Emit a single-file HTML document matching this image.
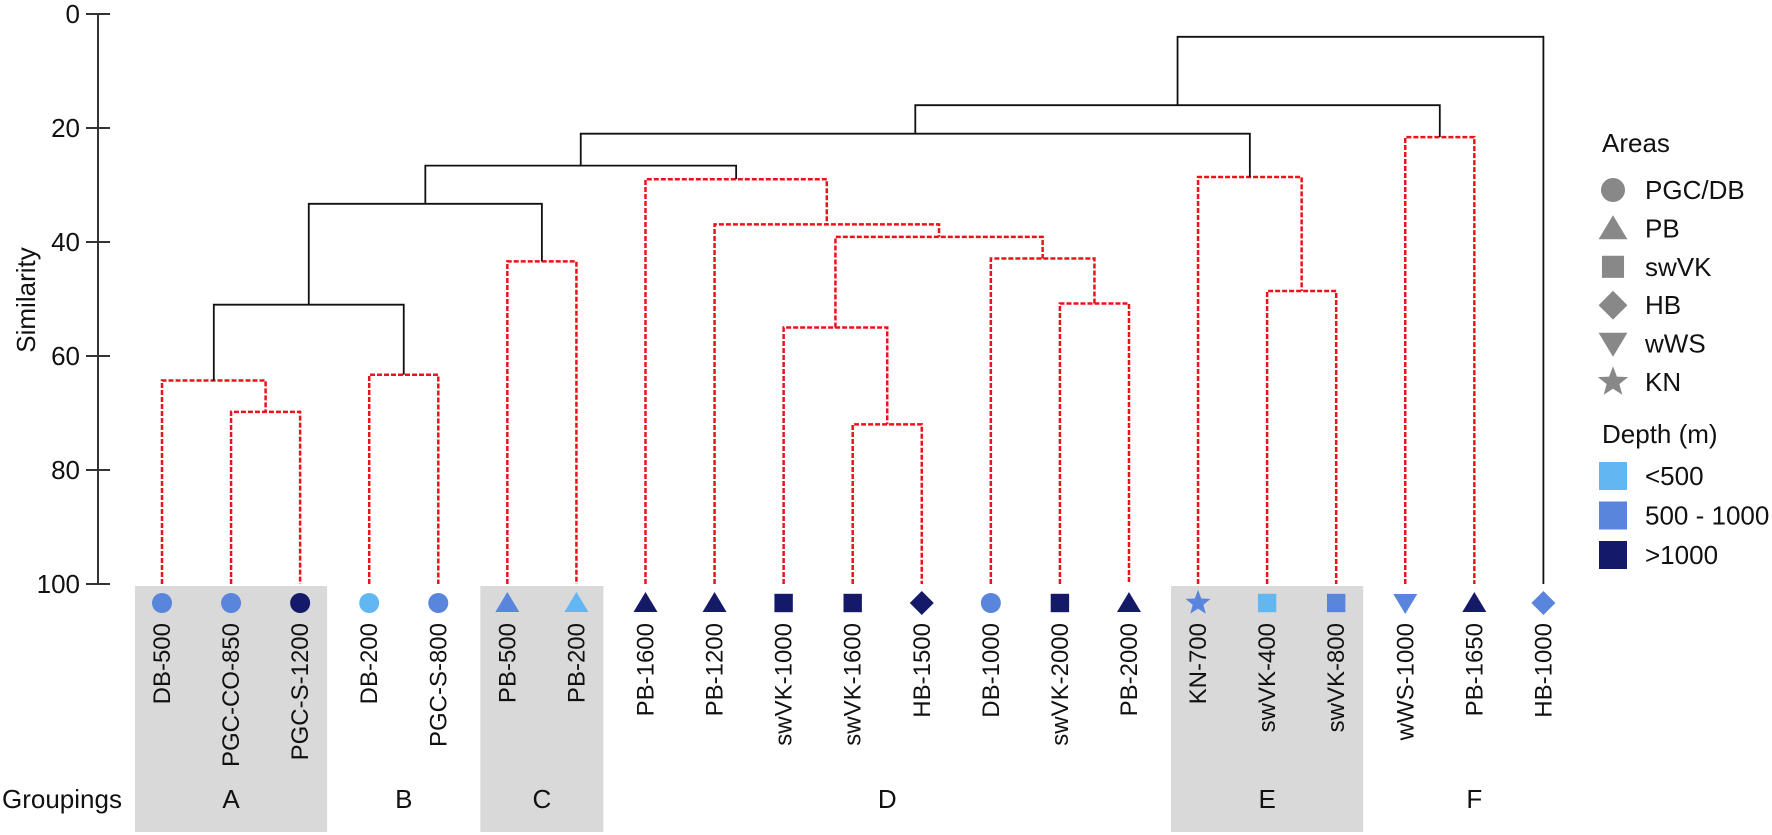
<!DOCTYPE html>
<html><head><meta charset="utf-8">
<style>
html,body{margin:0;padding:0;background:#fff;}
svg{display:block;font-family:"Liberation Sans",Arial,sans-serif;}
</style></head>
<body>
<svg id="chart" width="1772" height="835" viewBox="0 0 1772 835">
  <g id="groups"></g>
  <g id="axis"></g>
  <g id="tree"></g>
  <g id="leaves"></g>
  <g id="legend"></g>
</svg>
<script>
// ---- data ----
const leafNames = ["DB-500","PGC-CO-850","PGC-S-1200","DB-200","PGC-S-800","PB-500","PB-200","PB-1600","PB-1200","swVK-1000","swVK-1600","HB-1500","DB-1000","swVK-2000","PB-2000","KN-700","swVK-400","swVK-800","wWS-1000","PB-1650","HB-1000"];
const leafArea = ["circle","circle","circle","circle","circle","tri","tri","tri","tri","square","square","diamond","circle","square","tri","star","square","square","tridown","tri","diamond"];
const leafDepth = [1,1,2,0,1,1,0,2,2,2,2,2,1,2,2,1,0,1,1,2,1];
// merges: left child, right child (node ids; leaves 0..20, merges 21+)
const mergeLeft  = [1, 0, 3, 22,5, 24,10,9, 13,12,28,8, 7, 26,16,15,34,18,37,39];
const mergeRight = [2, 21,4, 23,6, 25,11,27,14,29,30,31,32,33,17,35,36,19,38,20];
const mergeHeight= [69.8,64.3,63.3,51,43.4,33.3,72,55,50.8,42.9,39.1,36.9,29,26.6,48.6,28.6,21,21.6,16,4];
const mergeRed   = [1,1,1,0,1,0,1,1,1,1,1,1,1,0,1,1,0,1,0,0];
const yTicks = [0,20,40,60,80,100];
const groupLabels = ["A","B","C","D","E","F"];
const groupStart = [0,3,5,7,15,18];
const groupEnd   = [2,4,6,14,17,20];
const groupShaded= [1,0,1,0,1,0];
const areaLabels = ["PGC/DB","PB","swVK","HB","wWS","KN"];
const areaShapes = ["circle","tri","square","diamond","tridown","star"];
const depthLabels = ["<500","500 - 1000",">1000"];
// ---- scales ----
const depthColors = ["#62b7f3","#5a85dc","#141a68"];
const NS = "http://www.w3.org/2000/svg";
function y(v){ return 14 + v*5.7; }
function x(i){ return 162 + i*69.07; }
function mk(tag, attrs, parent){ const e=document.createElementNS(NS,tag); for(const k in attrs) e.setAttribute(k,attrs[k]); parent.appendChild(e); return e; }
const FONT = 24;

// groups
const gG = document.getElementById('groups');
groupLabels.forEach((lab,i)=>{
  const x0 = x(groupStart[i]) - 27, x1 = x(groupEnd[i]) + 27;
  if(groupShaded[i]){
    const r = mk('rect',{x:x0,y:586,width:x1-x0,height:246,fill:'#d9d9d9'},gG);
    
    
  }
  const t = mk('text',{x:(x(groupStart[i])+x(groupEnd[i]))/2,y:808,'font-size':26,'text-anchor':'middle',fill:'#111'},gG);
  t.textContent = lab;
  
  
});
const gl = mk('text',{x:2,y:808,'font-size':26,fill:'#111'},gG);
gl.textContent = "Groupings";



// axis
const gA = document.getElementById('axis');
mk('line',{x1:98,y1:y(0),x2:98,y2:y(100),stroke:'#333','stroke-width':2},gA);
yTicks.forEach(v=>{
  mk('line',{x1:86,y1:y(v),x2:110,y2:y(v),stroke:'#333','stroke-width':2},gA);
  const t = mk('text',{x:80,y:y(v)+9,'font-size':26,'text-anchor':'end',fill:'#111'},gA);
  t.textContent = v;
  
  
});
const yt = mk('text',{x:0,y:0,'font-size':26,'text-anchor':'middle',fill:'#111',transform:'translate(35,300) rotate(-90)'},gA);
yt.textContent = "Similarity";



// tree
const gT = document.getElementById('tree');
const nodeX = [], nodeH = [];
leafNames.forEach((n,i)=>{ nodeX[i]=x(i); nodeH[i]=100; });
function style(red){ return red ? {stroke:'#e8141b','stroke-width':2.5,'stroke-dasharray':'5,2',fill:'none'} : {stroke:'#111','stroke-width':1.8,fill:'none'}; }
mergeHeight.forEach((h,k)=>{
  const id = 21+k, l = mergeLeft[k], r = mergeRight[k];
  nodeX[id] = (nodeX[l]+nodeX[r])/2; nodeH[id] = h;
  const red = mergeRed[k];
  const p = mk('path',Object.assign({d:`M${nodeX[l]},${y(nodeH[l])}V${y(h)}H${nodeX[r]}V${y(nodeH[r])}`},style(red)),gT);
  
  
});

// leaves
const gL = document.getElementById('leaves');
function shape(s, cx, cy, sz, color, parent){
  let e;
  if(s==='circle') e = mk('circle',{cx:cx,cy:cy,r:sz*0.5,fill:color},parent);
  else if(s==='square') e = mk('rect',{x:cx-sz*0.46,y:cy-sz*0.46,width:sz*0.92,height:sz*0.92,fill:color},parent);
  else if(s==='tri') e = mk('polygon',{points:`${cx},${cy-sz*0.55} ${cx+sz*0.6},${cy+sz*0.45} ${cx-sz*0.6},${cy+sz*0.45}`,fill:color},parent);
  else if(s==='tridown') e = mk('polygon',{points:`${cx},${cy+sz*0.55} ${cx+sz*0.6},${cy-sz*0.45} ${cx-sz*0.6},${cy-sz*0.45}`,fill:color},parent);
  else if(s==='diamond') e = mk('polygon',{points:`${cx},${cy-sz*0.6} ${cx+sz*0.6},${cy} ${cx},${cy+sz*0.6} ${cx-sz*0.6},${cy}`,fill:color},parent);
  else { let pts=[]; for(let i=0;i<10;i++){const a=-Math.PI/2+i*Math.PI/5, rr=i%2?sz*0.28:sz*0.66; pts.push((cx+rr*Math.cos(a)).toFixed(1)+','+(cy+rr*Math.sin(a)).toFixed(1));} e = mk('polygon',{points:pts.join(' '),fill:color},parent); }
  return e;
}
leafNames.forEach((n,i)=>{
  const m = shape(leafArea[i], x(i), 603, 20, depthColors[leafDepth[i]], gL);
  
  
  const t = mk('text',{x:0,y:0,'font-size':FONT,'text-anchor':'end',fill:'#111',transform:`translate(${x(i)+8},623) rotate(-90)`},gL);
  t.textContent = n;
  
  
});

// legend
const gLe = document.getElementById('legend');
const at = mk('text',{x:1602,y:152,'font-size':26,fill:'#111'},gLe);
at.textContent = "Areas";


areaLabels.forEach((lab,i)=>{
  const cy = 190 + i*38.4;
  shape(areaShapes[i],1613,cy,24,'#888',gLe);
  const t = mk('text',{x:1645,y:cy+9,'font-size':26,fill:'#111'},gLe);
  t.textContent = lab;
  
  
});
const dt = mk('text',{x:1602,y:443,'font-size':26,fill:'#111'},gLe);
dt.textContent = "Depth (m)";


depthLabels.forEach((lab,i)=>{
  const cy = 476 + i*39.5;
  mk('rect',{x:1599,y:cy-14,width:28,height:28,fill:depthColors[i]},gLe);
  const t = mk('text',{x:1645,y:cy+9,'font-size':26,fill:'#111'},gLe);
  t.textContent = lab;
  
  
});
</script>
</body></html>
